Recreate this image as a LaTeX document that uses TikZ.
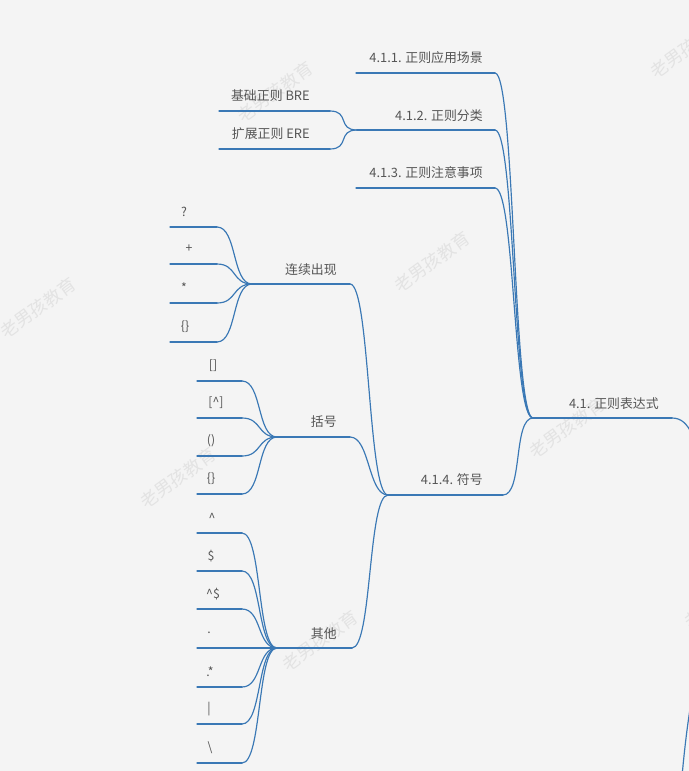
\documentclass[tikz,border=0pt]{standalone}
\usepackage{fontspec}
\setmainfont{Noto Sans CJK SC}
\definecolor{linkblue}{HTML}{3A78B5}
\definecolor{labelgray}{HTML}{555555}
\definecolor{paper}{HTML}{F4F4F4}
\begin{document}
\begin{tikzpicture}[x=0.03cm, y=-0.03cm, line join=round, line cap=round,
	link/.style={draw=linkblue, line width=1pt},
	branch/.style={link, out=180, in=0, distance=0.6cm},
	topic/.style={anchor=east, text=labelgray, inner sep=0pt, font=\fontsize{11}{13}\selectfont},
	leaf/.style={text=labelgray, inner sep=0pt, font=\fontsize{10.5}{12}\selectfont},
	wm/.style={text=black!11, rotate=36, inner sep=0pt, font=\fontsize{15}{15}\selectfont}]
	
	% Nền
	\fill[paper] (0,0) rectangle (689,771);
	\useasboundingbox (0,0) rectangle (689,771);
	\clip (0,0) rectangle (689,771);
	
	% Chữ chìm
	\node[wm] (w1) at (275,92) {老男孩教育};
	\node[wm] (w2) at (432,262) {老男孩教育};
	\node[wm] (w3) at (38,308) {老男孩教育};
	\node[wm] (w4) at (178,478) {老男孩教育};
	\node[wm] (w5) at (567,428) {老男孩教育};
	\node[wm] (w6) at (320,641) {老男孩教育};
	\node[wm] (w7) at (688,48) {老男孩教育};
	\node[wm] (w8) at (722,598) {老男孩教育};
	
	% Tọa độ các đường gạch chân
	\coordinate (rootL) at (533,418);  \coordinate (rootR) at (672,418);
	\coordinate (c1L) at (356,73);     \coordinate (c1R) at (495,73);
	\coordinate (c2L) at (357,130);    \coordinate (c2R) at (495,130);
	\coordinate (c3L) at (356,188);    \coordinate (c3R) at (495,188);
	\coordinate (c4L) at (388,495);    \coordinate (c4R) at (503,495);
	\coordinate (breL) at (219,111);   \coordinate (breR) at (330,111);
	\coordinate (ereL) at (219,149);   \coordinate (ereR) at (330,149);
	\coordinate (lxL) at (252,284);    \coordinate (lxR) at (350,284);
	\coordinate (khL) at (277,437);    \coordinate (khR) at (350,437);
	\coordinate (qtL) at (277,648);    \coordinate (qtR) at (352,648);
	\coordinate (offA) at (705,480);
	\coordinate (offB) at (705,640);
	\coordinate (offC) at (680,800);
	
	% Chủ đề
	\node[topic] (root) at (659,404) {4.1. 正则表达式};
	\node[topic] (c1) at (483,58) {4.1.1. 正则应用场景};
	\node[topic] (c2) at (483,116) {4.1.2. 正则分类};
	\node[topic] (c3) at (483,173) {4.1.3. 正则注意事项};
	\node[topic] (c4) at (483,480) {4.1.4. 符号};
	\node[topic] (bre) at (310,96) {基础正则 BRE};
	\node[topic] (ere) at (310,134) {扩展正则 ERE};
	\node[topic] (lx) at (337,270) {连续出现};
	\node[topic] (kh) at (337,422) {括号};
	\node[topic] (qt) at (337,634) {其他};
	
	% Gạch chân
	\foreach \n in {root,c1,c2,c3,c4,bre,ere,lx,kh,qt}
		\draw[link] (\n L) -- (\n R);
	
	% Nhánh ra ngoài khung
	\draw[link] (rootR) .. controls (690,418) and (696,440) .. (offA);
	\draw[link] (offC) .. controls (684,750) and (690,690) .. (offB);
	
	% Nhánh
	\foreach \n in {c1,c2,c3,c4}
		\draw[branch] (rootL) to (\n R);
	\draw[branch] (c2L) to (breR);
	\draw[branch] (c2L) to (ereR);
	\foreach \n in {lx,kh,qt}
		\draw[branch] (c4L) to (\n R);
	
	% Lá: liên tục xuất hiện
	\foreach \lbl/\y/\lx [count=\i] in {?/227/184, +/264/189, */303/184, {\{\}}/342/185} {
		\coordinate (aL\i) at (170,\y);
		\coordinate (aR\i) at (217,\y);
		\node[leaf] (a\i) at (\lx,\y-15) {\lbl};
		\draw[link] (aL\i) -- (aR\i);
		\draw[branch] (lxL) to (aR\i);
	}
	
	% Lá: dấu ngoặc
	\foreach \lbl/\y/\lx [count=\i] in {{[]}/381/213, {[\textasciicircum]}/418/216, {()}/456/211, {\{\}}/494/211} {
		\coordinate (bL\i) at (197,\y);
		\coordinate (bR\i) at (242,\y);
		\node[leaf] (b\i) at (\lx,\y-15) {\lbl};
		\draw[link] (bL\i) -- (bR\i);
		\draw[branch] (khL) to (bR\i);
	}
	
	% Lá: khác
	\foreach \lbl/\y/\lx [count=\i] in {{\textasciicircum}/533/212, {\$}/571/211, {\textasciicircum\$}/609/213, {.}/648/209, {.*}/687/210, {|}/724/209, {\textbackslash}/763/210} {
		\coordinate (dL\i) at (197,\y);
		\coordinate (dR\i) at (242,\y);
		\node[leaf] (d\i) at (\lx,\y-15) {\lbl};
		\draw[link] (dL\i) -- (dR\i);
		\draw[branch] (qtL) to (dR\i);
	}
\end{tikzpicture}
\end{document}
